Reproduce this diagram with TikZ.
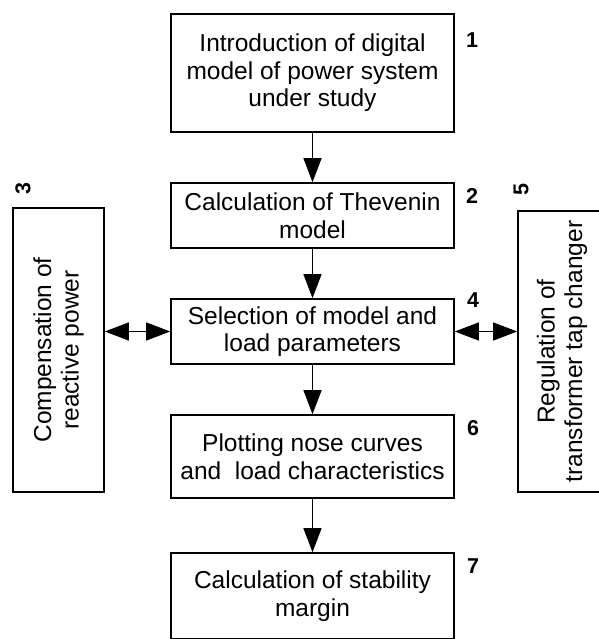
\documentclass[tikz,border=0pt]{standalone}
\usepackage{fontspec}
\setmainfont{Liberation Sans}
\usetikzlibrary{arrows.meta}
\begin{document}
\begin{tikzpicture}[x=1pt,y=-1pt,
  stepbox/.style={draw=black,line width=1.6pt,rectangle,inner sep=0pt,align=center,
    font=\fontsize{24.5}{27.5}\selectfont},
  sidetext/.style={rotate=90,align=center,font=\fontsize{24.5}{27.5}\selectfont,inner sep=0pt},
  numlabel/.style={font=\bfseries\fontsize{21.5}{24}\selectfont,inner sep=0pt},
  flow/.style={line width=1.2pt,-{Triangle[length=24pt,width=18pt]}},
  both/.style={line width=1.2pt,{Triangle[length=24pt,width=18pt]}-{Triangle[length=24pt,width=18pt]}}]
\useasboundingbox (0,0) rectangle (598,639);
\node[stepbox,minimum width=283pt,minimum height=118pt] (b1) at (312.5,73) {Introduction of digital\\model of power system\\under study};
\node[stepbox,minimum width=283pt,minimum height=65pt] (b2) at (312.5,215.5) {Calculation of Thevenin\\model};
\node[stepbox,minimum width=283pt,minimum height=65pt] (b4) at (312.5,331.5) {Selection of model and\\load parameters};
\node[stepbox,minimum width=283pt,minimum height=83pt] (b6) at (312.5,456.5) {Plotting nose curves\\and~~load characteristics};
\node[stepbox,minimum width=283pt,minimum height=86pt] (b7) at (312.5,596) {Calculation of stability\\margin};
\node[stepbox,minimum width=91pt,minimum height=284pt] (b3) at (58.5,350) {};
\node[sidetext] (t3) at (b3.center) {Compensation of\\reactive power};
\node[stepbox,minimum width=91pt,minimum height=281pt] (b5) at (563.5,351.5) {};
\node[sidetext] (t5) at (562,351.5) {Regulation of\\transformer tap changer};
\node[numlabel] (n1) at (472,40) {1};
\node[numlabel] (n2) at (472,196) {2};
\node[numlabel,rotate=90] (n3) at (23,189) {3};
\node[numlabel] (n4) at (473,300) {4};
\node[numlabel,rotate=90] (n5) at (521,190) {5};
\node[numlabel] (n6) at (473,428) {6};
\node[numlabel] (n7) at (473,566) {7};
\draw[flow] (b1.south) -- (b2.north);
\draw[flow] (b2.south) -- (b4.north);
\draw[flow] (b4.south) -- (b6.north);
\draw[flow] (b6.south) -- (b7.north);
\draw[both] (b4.west -| b3.east) -- (b4.west);
\draw[both] (b4.east) -- (b4.east -| b5.west);
\end{tikzpicture}
\end{document}
